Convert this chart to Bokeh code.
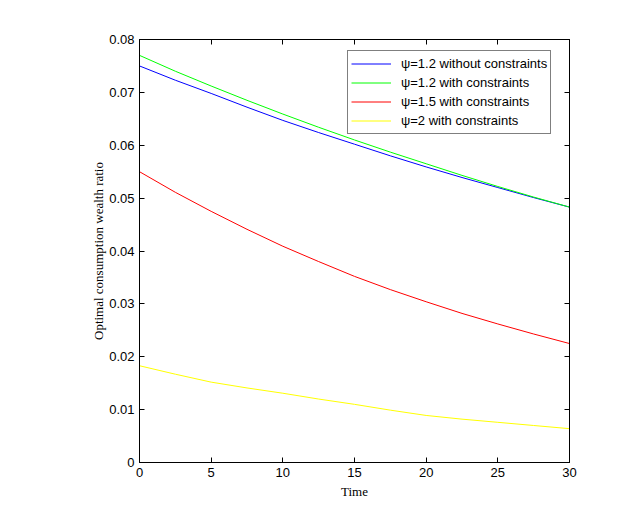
from bokeh.plotting import figure
from bokeh.models import LinearAxis, FixedTicker, Legend, LegendItem, Range1d
from bokeh.embed import file_html
from bokeh.resources import INLINE

time = [0, 2.5, 5, 7.5, 10, 12.5, 15, 17.5, 20, 22.5, 25, 27.5, 30]
psi12_free = [0.0750, 0.0723, 0.0698, 0.0672, 0.0647, 0.0624, 0.0602, 0.0580, 0.0559, 0.0539, 0.0520, 0.0501, 0.0483]
psi12_con = [0.0770, 0.0740, 0.0712, 0.0685, 0.0659, 0.0634, 0.0610, 0.0587, 0.0565, 0.0543, 0.0522, 0.0502, 0.0483]
psi15_con = [0.0550, 0.0511, 0.0475, 0.0441, 0.0409, 0.0380, 0.0352, 0.0327, 0.0304, 0.0282, 0.0262, 0.0243, 0.0225]
psi2_con = [0.0183, 0.0167, 0.0152, 0.0141, 0.0131, 0.0120, 0.0110, 0.0099, 0.0089, 0.0082, 0.0076, 0.0070, 0.0064]

labels = ["\u03c8=1.2 without constraints", "\u03c8=1.2 with constraints",
          "\u03c8=1.5 with constraints", "\u03c8=2 with constraints"]
colors = ["#0000ff", "#00ff00", "#ff0000", "#ffff00"]

x_ticks = [0, 5, 10, 15, 20, 25, 30]
y_ticks = [0, 0.01, 0.02, 0.03, 0.04, 0.05, 0.06, 0.07, 0.08]
y_tick_labels = ["0", "0.01", "0.02", "0.03", "0.04", "0.05", "0.06", "0.07", "0.08"]

p = figure(width=621, height=511, output_backend="svg", toolbar_location=None,
           x_range=Range1d(0, 30), y_range=Range1d(0, 0.08),
           min_border_left=139, min_border_right=52, min_border_top=39, min_border_bottom=49)
p.background_fill_color = "white"
p.border_fill_color = "white"
p.outline_line_color = "black"
p.outline_line_width = 1
p.xgrid.visible = False
p.ygrid.visible = False

renderers = []
for ys, c in zip([psi12_free, psi12_con, psi15_con, psi2_con], colors):
    r = p.line(time, ys, line_color=c, line_width=1)
    renderers.append(r)

font = "Liberation Sans"
for ax in [p.xaxis[0], p.yaxis[0]]:
    ax.major_tick_in = 5
    ax.major_tick_out = 0
    ax.minor_tick_in = 0
    ax.minor_tick_out = 0
    ax.major_label_text_font = font
    ax.major_label_text_font_size = "13px"
    ax.major_label_text_color = "black"
    ax.axis_line_color = "black"
    ax.major_tick_line_color = "black"
    ax.major_label_standoff = 5
    ax.axis_label_text_font = "Liberation Serif"
    ax.axis_label_text_font_size = "13px"
    ax.axis_label_text_font_style = "normal"
    ax.axis_label_text_color = "black"

p.xaxis[0].ticker = FixedTicker(ticks=x_ticks)
p.yaxis[0].ticker = FixedTicker(ticks=y_ticks)
p.yaxis[0].major_label_overrides = {t: l for t, l in zip(y_ticks, y_tick_labels)}
p.xaxis[0].axis_label = "Time"
p.yaxis[0].axis_label = "Optimal consumption wealth ratio"
p.xaxis[0].axis_label_standoff = 4
p.yaxis[0].axis_label_standoff = 0

top = LinearAxis(ticker=FixedTicker(ticks=x_ticks), major_label_text_color=None,
                 major_tick_in=5, major_tick_out=0, minor_tick_in=0, minor_tick_out=0,
                 major_label_standoff=0, major_tick_line_color="black", axis_line_color="black")
right = LinearAxis(ticker=FixedTicker(ticks=y_ticks), major_label_text_color=None,
                   major_tick_in=5, major_tick_out=0, minor_tick_in=0, minor_tick_out=0,
                   major_label_standoff=0, major_tick_line_color="black", axis_line_color="black")
p.add_layout(top, "above")
p.add_layout(right, "right")

legend = Legend(items=[LegendItem(label=l, renderers=[r]) for l, r in zip(labels, renderers)],
                location=(208, 328))
legend.label_text_font = font
legend.label_text_font_size = "13px"
legend.label_text_color = "black"
legend.glyph_width = 40
legend.glyph_height = 19
legend.label_height = 19
legend.spacing = 0
legend.padding = 3
legend.margin = 0
legend.label_standoff = 10
legend.border_line_color = "black"
legend.border_line_width = 1
legend.background_fill_color = "white"
legend.background_fill_alpha = 1
p.add_layout(legend, "center")

open("out.html", "w").write(file_html(p, INLINE))
